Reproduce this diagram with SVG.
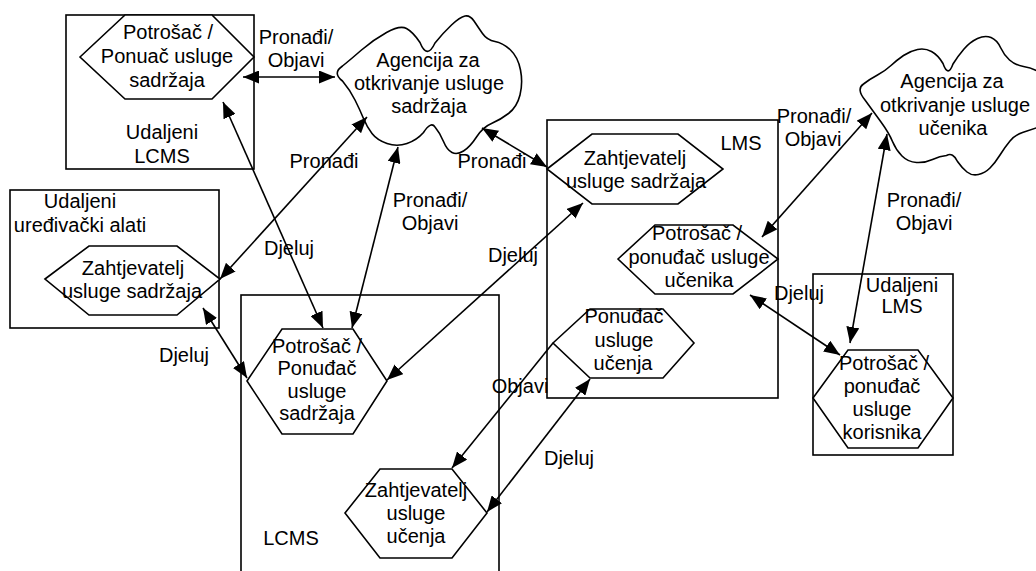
<svg xmlns="http://www.w3.org/2000/svg" width="1036" height="571" viewBox="0 0 1036 571">
  <defs>
    <marker id="arrow" viewBox="0 0 16 13" refX="16" refY="6.5" markerWidth="16" markerHeight="13" markerUnits="userSpaceOnUse" orient="auto-start-reverse">
      <path d="M0,0 L16,6.5 L0,13 z" fill="#000"/>
    </marker>
    <style>
      .box { fill: #fff; stroke: #000; stroke-width: 1.6; }
      .hex { fill: #fff; stroke: #000; stroke-width: 1.6; }
      .cloud { fill: #fff; stroke: #000; stroke-width: 1.6; }
      .conn { fill: none; stroke: #000; stroke-width: 1.6; }
      .both { marker-start: url(#arrow); marker-end: url(#arrow); }
      .one { marker-end: url(#arrow); }
      text { font-family: "Liberation Sans", Arial, sans-serif; font-size: 20px; fill: #000; text-anchor: middle; }
    </style>
  </defs>
  <rect width="1036" height="571" fill="#fff"/>

  <!-- system boxes -->
  <g id="box-remote-lcms">
    <rect class="box" x="66" y="15" width="188" height="154"/>
    <text x="162" y="139">Udaljeni</text>
    <text x="162" y="163">LCMS</text>
  </g>
  <g id="box-remote-tools">
    <rect class="box" x="10" y="190" width="209" height="138"/>
    <text x="80" y="208">Udaljeni</text>
    <text x="80" y="232">uređivački alati</text>
  </g>
  <g id="box-lcms">
    <rect class="box" x="241" y="295" width="258" height="300"/>
    <text x="291" y="545">LCMS</text>
  </g>
  <g id="box-lms">
    <rect class="box" x="547" y="120" width="231" height="278"/>
    <text x="741" y="150">LMS</text>
  </g>
  <g id="box-remote-lms">
    <rect class="box" x="813" y="274" width="140" height="181"/>
    <text x="902" y="292">Udaljeni</text>
    <text x="902" y="313">LMS</text>
  </g>

  <!-- discovery agencies -->
  <g id="cloud-content">
    <path class="cloud" d="M342.5,66 Q350,60 361.5,50 Q373,40 386.5,32.5 Q400,25 406.5,28.5 Q413,32 420,42.5 Q427,60 435,43 Q443,33 451.5,25 Q460,17 465,16 Q470,15 474,21 Q478,27 482.5,33.5 Q487,40 495,41.5 Q503,43 510.5,50 Q518,57 520.5,70 Q523,83 520,95 Q517,107 508.5,113.5 Q500,120 491.5,123.5 Q483,127 476.5,137 Q470,147 463.5,151 Q457,155 452,152.5 Q447,150 443.5,141.5 Q440,133 435,127 Q431,121 423.5,132.5 Q417,140 407,143.5 Q397,147 387,143.5 Q377,140 372,133.5 Q367,127 363.5,118.5 Q360,110 355,100 Q350,90 342.5,81 Q332,73 342.5,66 z"/>
    <text x="428" y="67">Agencija za</text>
    <text x="429" y="90">otkrivanje usluge</text>
    <text x="429" y="113">sadržaja</text>
  </g>
  <g id="cloud-learner">
    <path class="cloud" d="M863.5,84 Q870,79 877.5,75 Q885,71 891,65.5 Q897,60 903.5,55.5 Q910,51 917.5,49.5 Q925,48 931.5,51.5 Q938,55 943,63.5 Q948,78 953,64 Q958,56 964,49 Q970,42 977.5,38.5 Q985,35 991,37.5 Q997,40 1000.5,47.5 Q1004,55 1009.5,60 Q1015,65 1023.5,66.5 Q1032,68 1038.5,71.5 Q1045,75 1045,100 Q1045,125 1037.5,127.5 Q1030,130 1022.5,132.5 Q1015,135 1010,141 Q1005,147 1000,155 Q995,163 990,168 Q985,173 978.5,174.5 Q972,176 967,172 Q962,168 957.5,161.5 Q953,152 946.5,155.5 Q940,156 932.5,159.5 Q925,163 916.5,162.5 Q908,162 902,156 Q896,150 892.5,141.5 Q889,133 881,122 Q873,111 865,100 Q856,89 863.5,84 z"/>
    <text x="952" y="88">Agencija za</text>
    <text x="955" y="112">otkrivanje usluge</text>
    <text x="953" y="135">učenika</text>
  </g>

  <!-- service nodes -->
  <g id="hex-remote-content-provider">
    <polygon class="hex" points="80,57 125,15 212,15 254,57 212,99 125,99"/>
    <text x="168" y="39">Potrošač /</text>
    <text x="167" y="63">Ponuač usluge</text>
    <text x="167" y="87">sadržaja</text>
  </g>
  <g id="hex-tools-content-requester">
    <polygon class="hex" points="45,279 89,246 177,246 220,279 177,315 89,315"/>
    <text x="133" y="275">Zahtjevatelj</text>
    <text x="132" y="298">usluge sadržaja</text>
  </g>
  <g id="hex-lcms-content-provider">
    <polygon class="hex" points="247,381 282,329 353,329 387,381 353,434 282,434"/>
    <text x="317" y="353">Potrošač /</text>
    <text x="317" y="375">Ponuđač</text>
    <text x="317" y="398">usluge</text>
    <text x="317" y="420">sadržaja</text>
  </g>
  <g id="hex-lcms-learning-requester">
    <polygon class="hex" points="345,513 380,469 452,469 487,513 452,558 380,558"/>
    <text x="416" y="497">Zahtjevatelj</text>
    <text x="416" y="520">usluge</text>
    <text x="416" y="543">učenja</text>
  </g>
  <g id="hex-lms-content-requester">
    <polygon class="hex" points="547,169 592,134 678,134 723,169 678,204 592,204"/>
    <text x="635" y="165">Zahtjevatelj</text>
    <text x="636" y="188">usluge sadržaja</text>
  </g>
  <g id="hex-lms-learner-provider">
    <polygon class="hex" points="618,259 655,225 733,225 778,259 733,294 655,294"/>
    <text x="697" y="240">Potrošač /</text>
    <text x="699" y="264">ponuđač usluge</text>
    <text x="699" y="287">učenika</text>
  </g>
  <g id="hex-lms-learning-provider">
    <polygon class="hex" points="553,343 590,309 663,309 694,343 663,378 590,378"/>
    <text x="624" y="323">Ponuđač</text>
    <text x="624" y="347">usluge</text>
    <text x="623" y="370">učenja</text>
  </g>
  <g id="hex-remote-lms-user-provider">
    <polygon class="hex" points="813,398 848,350 918,350 953,398 918,448 848,448"/>
    <text x="884" y="370">Potrošač /</text>
    <text x="882" y="393">ponuđač</text>
    <text x="882" y="416">usluge</text>
    <text x="882" y="439">korisnika</text>
  </g>

  <!-- connectors -->
  <g id="connectors">
    <line class="conn both" x1="243" y1="77" x2="335" y2="77"/>
    <line class="conn both" x1="223" y1="102" x2="323" y2="328"/>
    <line class="conn both" x1="367" y1="117" x2="220" y2="279"/>
    <line class="conn both" x1="398" y1="147" x2="352" y2="328"/>
    <line class="conn both" x1="482" y1="128" x2="547" y2="167"/>
    <line class="conn both" x1="203" y1="308" x2="247" y2="378"/>
    <line class="conn both" x1="387" y1="380" x2="583" y2="203"/>
    <line class="conn one" x1="553" y1="343" x2="452" y2="468"/>
    <line class="conn both" x1="590" y1="379" x2="487" y2="512"/>
    <line class="conn both" x1="872" y1="113" x2="762" y2="237"/>
    <line class="conn both" x1="887" y1="134" x2="850" y2="343"/>
    <line class="conn both" x1="750" y1="295" x2="840" y2="355"/>
  </g>

  <!-- connector labels -->
  <g id="labels">
    <text x="296" y="44">Pronađi/</text>
    <text x="296" y="67">Objavi</text>
    <text x="324" y="168">Pronađi</text>
    <text x="289" y="255">Djeluj</text>
    <text x="430" y="207">Pronađi/</text>
    <text x="430" y="230">Objavi</text>
    <text x="492" y="168">Pronađi</text>
    <text x="184" y="362">Djeluj</text>
    <text x="513" y="262">Djeluj</text>
    <text x="520" y="393">Objavi</text>
    <text x="569" y="465">Djeluj</text>
    <text x="814" y="123">Pronađi/</text>
    <text x="813" y="146">Objavi</text>
    <text x="924" y="207">Pronađi/</text>
    <text x="924" y="230">Objavi</text>
    <text x="799" y="300">Djeluj</text>
  </g>
</svg>
